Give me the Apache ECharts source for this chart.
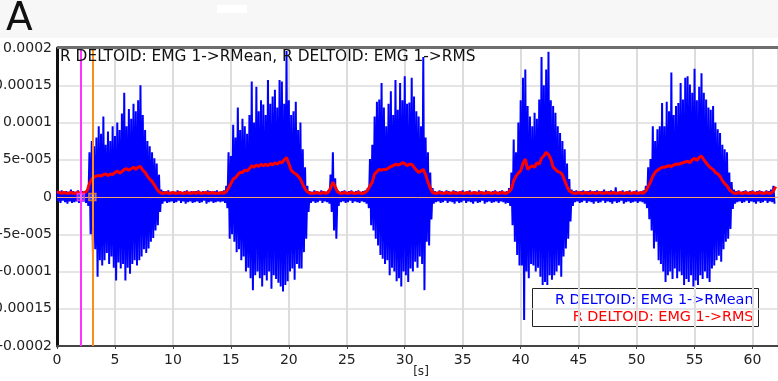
<!DOCTYPE html>
<html>
<head>
<meta charset="utf-8">
<script src="https://cdn.jsdelivr.net/npm/echarts@6/dist/echarts.min.js"></script>
<style>
  html, body { margin: 0; padding: 0; background: #ffffff; }
  #chart { width: 778px; height: 381px; }
</style>
</head>
<body>
<div id="chart"></div>
<script>
// sample spacing of the traces, seconds
var STEP = 0.2;

// RMean trace: positive and negative peaks per sample (x 1e-6)
var rmeanPos = [
  8, 7, 9, 6, 8, 7, 10, 8, 7, 9,
  7, 8, 6, 10, 60, 75, 68, 80, 95, 85,
  108, 70, 88, 75, 95, 82, 100, 90, 112, 140,
  95, 118, 105, 125, 115, 130, 150, 110, 90, 75,
  68, 60, 52, 45, 30, 10, 8, 7, 9, 7,
  8, 7, 9, 8, 6, 8, 9, 7, 8, 7,
  8, 9, 7, 8, 7, 9, 8, 6, 8, 9,
  7, 8, 9, 15, 60, 55, 97, 80, 120, 90,
  105, 95, 85, 110, 155, 100, 148, 115, 130, 124,
  110, 157, 125, 135, 144, 120, 157, 155, 125, 196,
  130, 110, 115, 128, 90, 100, 64, 40, 15, 8,
  7, 9, 8, 7, 9, 8, 7, 9, 30, 60,
  25, 9, 7, 8, 9, 7, 8, 9, 7, 8,
  9, 7, 8, 9, 12, 51, 70, 108, 128, 131,
  153, 120, 95, 125, 142, 110, 157, 117, 153, 130,
  162, 125, 127, 160, 135, 115, 108, 95, 188, 80,
  60, 33, 12, 8, 7, 9, 8, 7, 9, 8,
  7, 9, 8, 7, 8, 9, 7, 8, 9, 7,
  8, 7, 9, 8, 7, 9, 8, 7, 8, 9,
  7, 8, 9, 7, 8, 12, 33, 77, 60, 100,
  130, 160, 171, 122, 108, 95, 113, 105, 131, 188,
  150, 171, 195, 130, 122, 113, 95, 86, 75, 64,
  45, 24, 10, 8, 9, 7, 8, 9, 7, 8,
  9, 7, 8, 9, 7, 8, 10, 7, 8, 9,
  8, 13, 7, 8, 9, 7, 8, 9, 7, 8,
  9, 7, 8, 9, 15, 40, 51, 95, 75, 91,
  95, 126, 95, 128, 115, 167, 110, 122, 126, 153,
  131, 160, 162, 151, 140, 172, 130, 148, 166, 140,
  131, 120, 117, 122, 100, 91, 86, 70, 64, 60,
  33, 20, 10, 8, 9, 7, 8, 9, 7, 8,
  9, 7, 8, 9, 8, 7, 9, 8, 10, 15
];
var rmeanNeg = [
  -6, -8, -5, -7, -9, -6, -8, -7, -6, -8,
  -7, -6, -8, -12, -50, -76, -70, -107, -85, -92,
  -85, -75, -90, -80, -95, -112, -88, -96, -90, -112,
  -95, -103, -90, -85, -92, -85, -80, -70, -75, -69,
  -60, -55, -45, -38, -20, -9, -6, -8, -7, -6,
  -8, -7, -5, -8, -6, -9, -7, -6, -8, -7,
  -6, -8, -7, -5, -9, -7, -6, -8, -7, -6,
  -7, -6, -8, -15, -56, -50, -60, -74, -70, -85,
  -80, -100, -95, -109, -125, -105, -100, -109, -120, -105,
  -112, -100, -123, -105, -110, -115, -120, -127, -118, -113,
  -100, -96, -111, -90, -96, -96, -74, -56, -20, -8,
  -6, -8, -7, -5, -8, -6, -7, -9, -20, -45,
  -56, -12, -7, -6, -8, -7, -5, -8, -6, -7,
  -8, -6, -7, -9, -15, -38, -45, -56, -65, -78,
  -83, -90, -85, -105, -95, -100, -113, -109, -120, -100,
  -105, -114, -96, -100, -87, -95, -80, -90, -125, -60,
  -65, -30, -9, -7, -6, -8, -7, -5, -8, -6,
  -7, -9, -6, -8, -7, -5, -8, -6, -7, -9,
  -6, -8, -7, -5, -9, -7, -6, -8, -7, -6,
  -8, -6, -7, -9, -8, -12, -38, -60, -78, -92,
  -92, -165, -100, -109, -90, -92, -100, -95, -107, -118,
  -114, -118, -105, -111, -105, -100, -92, -107, -80, -69,
  -56, -33, -12, -7, -6, -8, -7, -5, -8, -6,
  -7, -9, -6, -8, -7, -5, -8, -6, -7, -9,
  -6, -8, -7, -5, -9, -7, -6, -8, -7, -6,
  -8, -6, -7, -9, -15, -30, -45, -69, -60, -85,
  -90, -100, -114, -105, -100, -110, -96, -109, -100, -105,
  -118, -110, -114, -105, -120, -112, -118, -105, -110, -100,
  -109, -114, -96, -92, -85, -79, -87, -70, -60, -56,
  -43, -16, -9, -7, -6, -8, -7, -5, -8, -6,
  -7, -9, -6, -8, -7, -5, -8, -6, -7, -9
];

// RMS trace (x 1e-6)
var rmsVals = [
  7, 6, 5, 6, 5, 5, 6, 5, 5, 6,
  5, 5, 6, 8, 18, 24, 27, 28, 29, 28,
  30, 31, 29, 31, 30, 33, 35, 32, 34, 37,
  38, 36, 38, 40, 37, 40, 41, 36, 33, 28,
  24, 21, 16, 11, 7, 5, 5, 6, 5, 5,
  6, 5, 5, 6, 5, 5, 6, 5, 5, 6,
  5, 6, 5, 5, 6, 5, 5, 6, 5, 5,
  5, 6, 5, 7, 12, 18, 24, 26, 30, 33,
  33, 36, 35, 38, 42, 40, 43, 41, 44, 42,
  44, 42, 45, 43, 46, 44, 47, 46, 50, 53,
  45, 36, 33, 31, 28, 24, 17, 11, 7, 5,
  5, 5, 6, 5, 5, 6, 5, 6, 12, 20,
  14, 7, 5, 5, 6, 5, 5, 6, 5, 5,
  6, 5, 5, 6, 9, 15, 20, 31, 34, 37,
  36, 37, 37, 39, 41, 42, 44, 43, 44, 46,
  45, 42, 44, 44, 40, 36, 33, 35, 37, 30,
  20, 12, 6, 5, 5, 6, 5, 5, 6, 5,
  5, 6, 5, 5, 6, 5, 5, 6, 5, 5,
  6, 5, 5, 6, 5, 5, 6, 5, 5, 6,
  5, 5, 6, 5, 5, 7, 11, 22, 28, 32,
  35, 45, 51, 37, 40, 42, 40, 46, 44, 52,
  55, 60, 57, 51, 40, 37, 34, 33, 30, 22,
  14, 8, 6, 5, 5, 6, 5, 5, 6, 5,
  5, 6, 5, 5, 6, 5, 5, 6, 5, 5,
  6, 5, 5, 6, 5, 5, 6, 5, 5, 6,
  5, 5, 6, 5, 8, 14, 20, 28, 33, 36,
  38, 40, 40, 41, 42, 41, 43, 44, 44, 45,
  46, 47, 48, 46, 50, 52, 49, 53, 55, 50,
  46, 42, 39, 37, 33, 31, 28, 22, 18, 15,
  10, 7, 5, 5, 6, 5, 5, 6, 5, 5,
  6, 5, 5, 6, 5, 5, 6, 5, 5, 8,
  14
];

// y tick labels, bottom to top
var yTickLabels = ['-0.0002', '-0.00015', '-0.0001', '-5e-005', '0', '5e-005', '0.0001', '0.00015', '0.0002'];

// cursor times (s) and their colours
var cursorTimes = [2.05, 3.05];
var cursorColors = ['#ff33ff', '#ff8c1a'];

var seriesNames = ['R DELTOID: EMG 1->RMean', 'R DELTOID: EMG 1->RMS'];
var xAxisTitle = '[s]';

var FONT = 'DejaVu Sans';

//拼接曲线数据
var blueData = [];
for (var i = 0; i < rmeanPos.length; i++) {
	blueData.push([i * STEP, rmeanPos[i] * 1e-6]);
	blueData.push([i * STEP + STEP / 2, rmeanNeg[i] * 1e-6]);
}
var redData = [];
for (var j = 0; j < rmsVals.length; j++) {
	redData.push([j * STEP, rmsVals[j] * 1e-6]);
}

var cursorLines = [];
var cursorPoints = [];
for (var k = 0; k < cursorTimes.length; k++) {
	cursorLines.push({ xAxis: cursorTimes[k], lineStyle: { color: cursorColors[k], width: 2, type: 'solid' } });
	cursorPoints.push({ value: [cursorTimes[k], 0], itemStyle: { color: 'rgba(255,255,255,0.3)', borderColor: cursorColors[k], borderWidth: 1.5 } });
}

var myChart = echarts.init(document.getElementById('chart'), null, { renderer: 'canvas' });

var option = {
	animation: false,
	backgroundColor: '#ffffff',
	grid: { left: 57, right: 0, top: 48, bottom: 35, show: false, containLabel: false, outerBoundsMode: 'none' },
	xAxis: {
		type: 'value',
		min: 0,
		max: 62.2,
		interval: 5,
		axisLine: { show: true, onZero: false, lineStyle: { color: '#444', width: 2 } },
		axisTick: { show: true, length: 3, lineStyle: { color: '#444' } },
		axisLabel: {
			fontFamily: FONT, fontSize: 14, color: '#222', margin: 7,
			formatter: function(v) { return (Math.abs(v % 5) < 1e-6) ? String(v) : ''; }
		},
		splitLine: { show: true, lineStyle: { color: '#dcdcdc', width: 2 } }
	},
	yAxis: {
		type: 'value',
		min: -0.0002,
		max: 0.0002,
		interval: 0.00005,
		axisLine: { show: true, onZero: false, lineStyle: { color: '#111', width: 3 } },
		axisTick: { show: false },
		axisLabel: {
			fontFamily: FONT, fontSize: 14, color: '#222', margin: 5,
			formatter: function(v) {
				var idx = Math.round((v + 0.0002) / 0.00005);
				return yTickLabels[idx] || '';
			}
		},
		splitLine: { show: true, lineStyle: { color: '#dcdcdc', width: 1.5 } }
	},
	series: [
		{
			name: seriesNames[0],
			type: 'line',
			data: blueData,
			showSymbol: false,
			sampling: null,
			lineStyle: { color: '#0000ff', width: 2 },
			z: 2
		},
		{
			name: seriesNames[1],
			type: 'line',
			data: redData,
			showSymbol: false,
			lineStyle: { color: '#ff0000', width: 3 },
			z: 3
		},
		{
			type: 'scatter',
			data: cursorPoints,
			symbol: 'rect',
			symbolSize: 7,
			z: 6,
			markLine: {
				silent: true,
				symbol: ['none', 'none'],
				label: { show: false },
				data: [{ yAxis: 0, lineStyle: { color: '#f5a06a', width: 1, type: 'solid' } }].concat(cursorLines)
			}
		}
	],
	graphic: [
		{ type: 'rect', left: 0, top: 0, shape: { width: 778, height: 38 }, style: { fill: '#f7f7f7' }, z: -1 },
		{ type: 'rect', left: 217, top: 5, shape: { width: 30, height: 8 }, style: { fill: '#ffffff' }, z: -1 },
		{ type: 'text', left: 6, top: 0, style: { text: 'A', fontFamily: FONT, fontSize: 39, fill: '#111' } },
		{ type: 'rect', left: 57, top: 46, shape: { width: 721, height: 3 }, style: { fill: '#6e6e6e' }, z: 10 },
		{ type: 'text', left: 60, top: 49, style: { text: seriesNames[0] + ', ' + seriesNames[1], fontFamily: FONT, fontSize: 15.4, fill: '#111' }, z: 10 },
		{ type: 'text', style: { x: 421, y: 372, text: xAxisTitle, align: 'center', verticalAlign: 'middle', fontFamily: FONT, fontSize: 12, fill: '#222' } },
		{
			type: 'group', left: 532, top: 288, z: 20,
			children: [
				{ type: 'rect', shape: { x: 0, y: 0, width: 226, height: 38 }, style: { fill: '#ffffff', stroke: '#222', lineWidth: 1 } },
				{ type: 'text', style: { x: 221, y: 12, text: seriesNames[0], align: 'right', verticalAlign: 'middle', fontFamily: FONT, fontSize: 14.4, fill: '#0000ff' } },
				{ type: 'text', style: { x: 221, y: 29, text: seriesNames[1], align: 'right', verticalAlign: 'middle', fontFamily: FONT, fontSize: 14.4, fill: '#ff0000' } }
			]
		}
	]
};

myChart.setOption(option);
</script>
</body>
</html>
